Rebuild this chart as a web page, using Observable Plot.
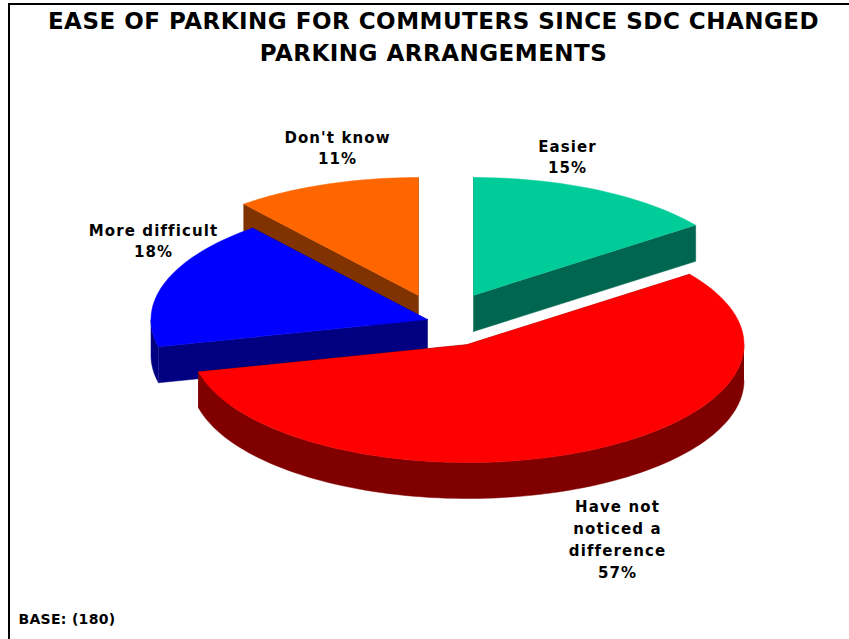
<!DOCTYPE html>
<html><head><meta charset="utf-8">
<script src="https://cdn.jsdelivr.net/npm/d3@7"></script>
<script src="https://cdn.jsdelivr.net/npm/@observablehq/plot@0.6"></script>
<style>
html,body{margin:0;padding:0;background:#fff;overflow:hidden}
svg{display:block}
.ttl text{letter-spacing:.5px}
.lbl text{letter-spacing:1.1px}
.base text{letter-spacing:.3px}
</style></head><body>
<script>
// Data
const categories = ["Easier", "Have not\nnoticed a\ndifference", "More difficult", "Don't know"];
const values = [15, 57, 18, 11];
const topColors = ["#00CC99", "#FF0000", "#0000FF", "#FF6600"];
const sideColors = ["#006650", "#800000", "#000080", "#803300"];
const titleLines = ["EASE OF PARKING FOR COMMUTERS SINCE SDC CHANGED", "PARKING ARRANGEMENTS"];
const baseNote = "BASE: (180)";

// Layout of the tilted pie, kept apart from the values
const apexX = [473, 467, 427, 418];
const apexY = [295, 344, 319, 295];
const radiusX = 276.5, radiusY = 118, depth = 36;
const labelX = [567, 617, 153, 337];
const labelY = [155, 537.5, 239, 146];
const drawOrder = [3, 2, 0, 1];

const total = d3.sum(values);
let acc = 0;
const spans = values.map(v => { const a = acc; acc += v; return [a / total * 2 * Math.PI, acc / total * 2 * Math.PI]; });
const polys = [];
function add(id, color, pts) { pts.forEach(([x, y]) => polys.push({id, color, x, y})); }
const pt = (i, a, dy = 0) => [apexX[i] + radiusX * Math.sin(a), apexY[i] - radiusY * Math.cos(a) + dy];
function arc(i, a0, a1, dy = 0) {
  const n = Math.max(2, Math.ceil((a1 - a0) / 0.03));
  return d3.range(n + 1).map(k => pt(i, a0 + (a1 - a0) * k / n, dy));
}
drawOrder.forEach(i => {
  const [a0, a1] = spans[i];
  const apex = [apexX[i], apexY[i]], apexLow = [apexX[i], apexY[i] + depth];
  // cut faces
  add(`s${i}a`, sideColors[i], [apex, pt(i, a0), pt(i, a0, depth), apexLow]);
  add(`s${i}b`, sideColors[i], [apex, pt(i, a1), pt(i, a1, depth), apexLow]);
  // rim: the part facing the viewer
  const r0 = Math.max(a0, Math.PI / 2), r1 = Math.min(a1, 3 * Math.PI / 2);
  if (r1 > r0) add(`s${i}r`, sideColors[i], [...arc(i, r0, r1), ...arc(i, r0, r1, depth).reverse()]);
  // top face
  add(`s${i}t`, topColors[i], [apex, ...arc(i, a0, a1)]);
});

const labels = categories.map((c, i) => ({text: `${c}\n${values[i]}%`, x: labelX[i], y: labelY[i]}));
const font = "DejaVu Sans, Verdana, sans-serif";

const chart = Plot.plot({
  width: 849, height: 639, margin: 0,
  x: {domain: [0, 849], range: [0, 849], axis: null},
  y: {domain: [0, 639], range: [0, 639], axis: null},
  style: {background: "#fff", fontFamily: font},
  marks: [
    Plot.line(polys, {x: "x", y: "y", z: "id", fill: "color", stroke: "color", strokeWidth: 0.5, curve: "linear"}),
    Plot.ruleY([3.5], {x1: 8, x2: 849, stroke: "#000", strokeWidth: 2}),
    Plot.ruleX([8.5], {y1: 3, y2: 639, stroke: "#000", strokeWidth: 2}),
    Plot.text(titleLines, {x: [433, 433], y: [21, 53], text: d => d, fontSize: 23, fontWeight: 700, fill: "#000", textAnchor: "middle", className: "ttl"}),
    Plot.text(labels, {x: "x", y: "y", text: "text", fontSize: 15, fontWeight: 700, lineHeight: 1.46, fill: "#000", textAnchor: "middle", className: "lbl"}),
    Plot.text([baseNote], {x: [18], y: [619], text: d => d, fontSize: 14, fontWeight: 700, fill: "#000", textAnchor: "start", className: "base"})
  ]
});
document.body.appendChild(chart);
</script>
</body></html>
